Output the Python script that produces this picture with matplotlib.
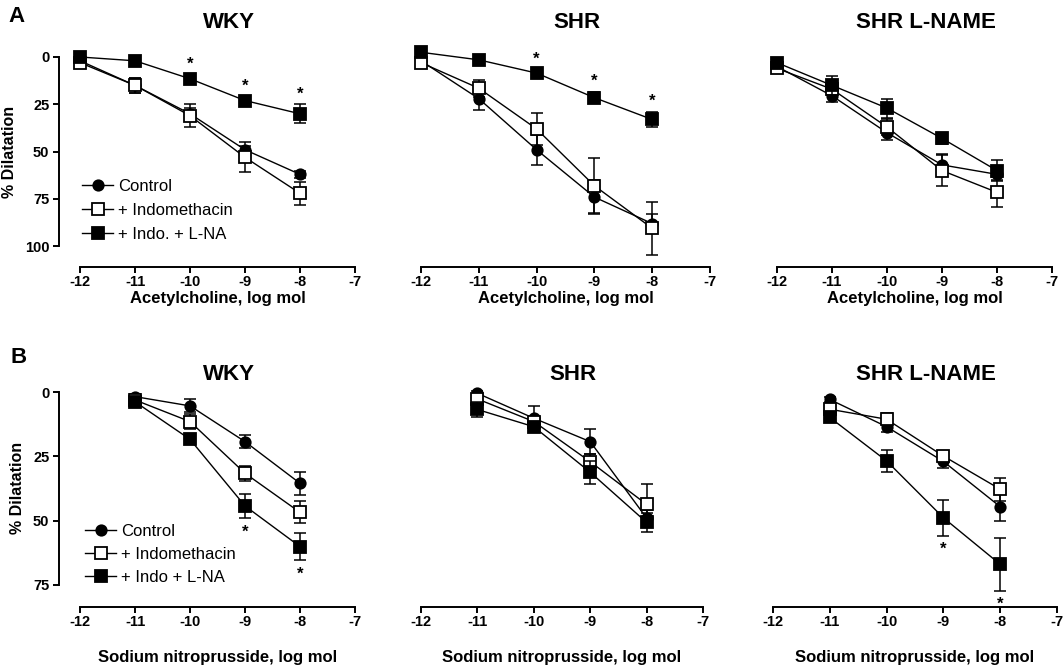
import matplotlib
matplotlib.use('Agg')
import matplotlib.pyplot as plt
import matplotlib.transforms as mtransforms

plt.rcParams['font.family'] = ['Liberation Sans', 'DejaVu Sans']
plt.rcParams['axes.unicode_minus'] = False

W, H, DPI = 1063, 668, 100

# ---------------- data ----------------
doses_ach = [-12, -11, -10, -9, -8]
doses_snp = [-11, -10, -9, -8]
x_ticks = [-12, -11, -10, -9, -8, -7]
x_tick_labels = ['-12', '-11', '-10', '-9', '-8', '-7']

titles = ['WKY', 'SHR', 'SHR L-NAME']
xlabel_ach = 'Acetylcholine, log mol'
xlabel_snp = 'Sodium nitroprusside, log mol'
ylabel = '% Dilatation'
legend_ach = ['Control', '+ Indomethacin', '+ Indo. + L-NA']
legend_snp = ['Control', '+ Indomethacin', '+ Indo + L-NA']

# Row A (acetylcholine)
wky_ach_ctrl = [2, 15, 30, 49, 62]
wky_ach_ctrl_err = [1, 4, 3, 2, 2]
wky_ach_indo = [3, 15, 31, 53, 72]
wky_ach_indo_err = [1, 4, 6, 8, 6]
wky_ach_lna = [0, 2, 11.5, 23, 30]
wky_ach_lna_err = [1, 1, 2, 2, 5]
wky_ach_sig = [-10, -9, -8]

shr_ach_ctrl = [2, 22, 49, 74, 88]
shr_ach_ctrl_err = [1, 6, 8, 9, 5]
shr_ach_indo = [3, 16.5, 38, 68, 90.5]
shr_ach_indo_err = [1, 4.5, 8.5, 14.5, 14]
shr_ach_lna = [-2.5, 1.5, 8.5, 21.5, 33]
shr_ach_lna_err = [1, 1, 2, 3, 4]
shr_ach_sig = [-10, -9, -8]

lname_ach_ctrl = [5, 20.5, 40, 57, 62]
lname_ach_ctrl_err = [1, 3.5, 4, 6, 3]
lname_ach_indo = [6, 17, 37, 60, 71.5]
lname_ach_indo_err = [1, 3, 4, 8, 8]
lname_ach_lna = [3, 15, 27, 43, 60]
lname_ach_lna_err = [1, 5, 5, 3, 5.5]
lname_ach_sig = []

# Row B (sodium nitroprusside)
wky_snp_ctrl = [1.8, 5.4, 19.3, 35.5]
wky_snp_ctrl_err = [1, 2.5, 2.5, 4.5]
wky_snp_indo = [3.1, 11.5, 31.6, 46.8]
wky_snp_indo_err = [1, 3, 3, 4.3]
wky_snp_lna = [3.8, 18.4, 44.3, 60.1]
wky_snp_lna_err = [1, 2, 4.8, 5.2]
wky_snp_sig = [-9, -8]

shr_snp_ctrl = [0.5, 10.2, 19.3, 49]
shr_snp_ctrl_err = [1, 4.8, 4.8, 3]
shr_snp_indo = [2.7, 11.5, 27.1, 43.7]
shr_snp_indo_err = [1, 2, 3, 8]
shr_snp_lna = [6.8, 13.5, 31.2, 50.7]
shr_snp_lna_err = [3, 2, 4.4, 3.6]
shr_snp_sig = []

lname_snp_ctrl = [2.9, 13.5, 27, 44.6]
lname_snp_ctrl_err = [1, 2, 2.5, 5.4]
lname_snp_indo = [6.7, 10.6, 24.9, 37.8]
lname_snp_indo_err = [1, 2.3, 2, 4.5]
lname_snp_lna = [9.9, 26.8, 48.9, 67]
lname_snp_lna_err = [1, 4.4, 7, 10.2]
lname_snp_sig = [-9, -8]

# ---------------- layout ----------------
fig = plt.figure(figsize=(W / DPI, H / DPI), dpi=DPI)

def px_axes(left, right, top, bottom):
    return fig.add_axes([left / W, 1 - bottom / H, (right - left) / W, (bottom - top) / H])

XL = -12.38
rows = [
    dict(top=38, bottom=267, y0=57, ppu=1.893, ymax=100, yticks=[0, 25, 50, 75, 100],
         cols=[(80, 355), (421, 710), (777, 1052)], doses=doses_ach, xlabel=xlabel_ach,
         xlab_y=-0.103, ylab=(-0.142, 0.504), title_y=1.0437, sig_dir=-1, sig_off=7.5,
         legend=legend_ach, leg_anchor=(0.078, 0.383), leg_ls=0.52),
    dict(top=380, bottom=607, y0=392, ppu=2.572, ymax=75, yticks=[0, 25, 50, 75],
         cols=[(80, 355), (421, 703), (773, 1057)], doses=doses_snp, xlabel=xlabel_snp,
         xlab_y=-0.19, ylab=(-0.115, 0.524), title_y=1.0, sig_dir=1, sig_off=10,
         legend=legend_snp, leg_anchor=(0.088, 0.365), leg_ls=0.48),
]

series = [
    [
        [(wky_ach_ctrl, wky_ach_ctrl_err), (wky_ach_indo, wky_ach_indo_err), (wky_ach_lna, wky_ach_lna_err), wky_ach_sig],
        [(shr_ach_ctrl, shr_ach_ctrl_err), (shr_ach_indo, shr_ach_indo_err), (shr_ach_lna, shr_ach_lna_err), shr_ach_sig],
        [(lname_ach_ctrl, lname_ach_ctrl_err), (lname_ach_indo, lname_ach_indo_err), (lname_ach_lna, lname_ach_lna_err), lname_ach_sig],
    ],
    [
        [(wky_snp_ctrl, wky_snp_ctrl_err), (wky_snp_indo, wky_snp_indo_err), (wky_snp_lna, wky_snp_lna_err), wky_snp_sig],
        [(shr_snp_ctrl, shr_snp_ctrl_err), (shr_snp_indo, shr_snp_indo_err), (shr_snp_lna, shr_snp_lna_err), shr_snp_sig],
        [(lname_snp_ctrl, lname_snp_ctrl_err), (lname_snp_indo, lname_snp_indo_err), (lname_snp_lna, lname_snp_lna_err), lname_snp_sig],
    ],
]

styles = [
    dict(marker='o', ms=7.5, mfc='black'),
    dict(marker='s', ms=8, mfc='white'),
    dict(marker='s', ms=8, mfc='black'),
]

LW = 1.4
for r, row in enumerate(rows):
    for c, (p12, p7) in enumerate(row['cols']):
        ppx = (p7 - p12) / 5.0
        left = p12 + (XL + 12) * ppx
        ax = px_axes(left, p7, row['top'], row['bottom'])
        ax.set_xlim(XL, -7)
        ytop = (row['top'] - row['y0']) / row['ppu']
        ybot = (row['bottom'] - row['y0']) / row['ppu']
        ax.set_ylim(ybot, ytop)
        ax.patch.set_alpha(0)
        for s in ['top', 'right']:
            ax.spines[s].set_visible(False)
        ax.spines['bottom'].set_bounds(-12, -7)
        ax.spines['bottom'].set_linewidth(LW)
        ax.set_xticks(x_ticks)
        ax.set_xticklabels(x_tick_labels, fontsize=10.5, fontweight='bold')
        ax.tick_params(axis='x', length=4, width=LW, pad=1.5)
        if c == 0:
            ax.spines['left'].set_bounds(0, row['ymax'])
            ax.spines['left'].set_linewidth(LW)
            ax.set_yticks(row['yticks'])
            ax.set_yticklabels([str(t) for t in row['yticks']], fontsize=10.5, fontweight='bold')
            ax.tick_params(axis='y', length=4, width=LW, pad=3)
            ax.set_ylabel(ylabel, fontsize=11.5, fontweight='bold')
            ax.yaxis.set_label_coords(*row['ylab'])
        else:
            ax.spines['left'].set_visible(False)
            ax.set_yticks([])
        ax.set_xlabel(row['xlabel'], fontsize=12, fontweight='bold')
        ax.xaxis.set_label_coords((-9.5 - XL) / (-7 - XL), row['xlab_y'])

        trans = mtransforms.blended_transform_factory(ax.transData, ax.transAxes)
        ax.text(-9.3, row['title_y'], titles[c], transform=trans, ha='center',
                va='baseline', fontsize=16, fontweight='bold')

        doses = row['doses']
        panel = series[r][c]
        handles = []
        for k in range(3):
            vals, errs = panel[k]
            ax.errorbar(doses, vals, yerr=errs, fmt='none', ecolor='black',
                        elinewidth=1.1, capsize=4, capthick=1.1, zorder=2 + k * 2, clip_on=False)
            st = styles[k]
            ln, = ax.plot(doses, vals, color='black', lw=1.0, marker=st['marker'],
                          ms=st['ms'], mfc=st['mfc'], mec='black', mew=1.3,
                          zorder=3 + k * 2, clip_on=False)
            handles.append(ln)
        lna_vals, lna_errs = panel[2]
        for d in panel[3]:
            i = doses.index(d)
            yv = lna_vals[i] + row['sig_dir'] * lna_errs[i]
            ax.annotate('*', xy=(d, yv), xytext=(0, -row['sig_dir'] * row['sig_off']),
                        textcoords='offset points', ha='center', va='center',
                        fontsize=12, fontweight='bold')
        if c == 0:
            ax.legend(handles, row['legend'], loc='upper left', bbox_to_anchor=row['leg_anchor'],
                      frameon=False, fontsize=12, handlelength=1.85, handletextpad=0.3,
                      labelspacing=row['leg_ls'], borderpad=0, borderaxespad=0)

fig.text(8 / W, 1 - 22 / H, 'A', fontsize=16, fontweight='bold', ha='left', va='baseline')
fig.text(10 / W, 1 - 363 / H, 'B', fontsize=16, fontweight='bold', ha='left', va='baseline')

fig.savefig('out.png', dpi=DPI, facecolor='white')
